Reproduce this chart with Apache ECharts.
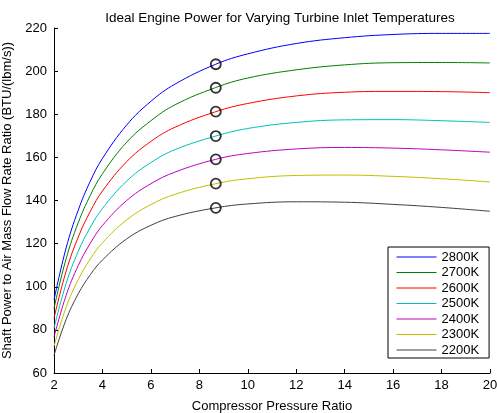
<!DOCTYPE html>
<html>
<head>
<meta charset="utf-8">
<script src="https://cdn.jsdelivr.net/npm/echarts@6/dist/echarts.min.js"></script>
<style>
html,body{margin:0;padding:0;background:#fff;}
#chart{width:497px;height:413px;}
</style>
</head>
<body>
<div id="chart"></div>
<script>
var pressureRatio = [2, 2.5, 3, 3.5, 4, 5, 6, 7, 8.68, 10, 12, 14, 16, 18, 20];
var seriesNames = ['2800K', '2700K', '2600K', '2500K', '2400K', '2300K', '2200K'];
var power2800 = [93.9, 118.0, 135.5, 149.0, 159.5, 175.0, 186.0, 194.0, 203.2, 208.0, 212.8, 215.5, 217.0, 217.5, 217.5];
var power2700 = [90.0, 113.0, 129.7, 142.4, 152.4, 167.0, 177.0, 184.4, 192.4, 196.8, 200.6, 202.9, 203.9, 204.0, 203.8];
var power2600 = [85.4, 107.2, 123.0, 135.0, 144.4, 158.0, 167.4, 174.0, 181.2, 185.0, 188.5, 190.2, 190.6, 190.5, 190.0];
var power2500 = [80.8, 101.5, 116.4, 127.6, 136.3, 149.0, 157.6, 163.6, 169.9, 173.4, 176.2, 177.4, 177.5, 177.0, 176.2];
var power2400 = [76.7, 96.0, 109.8, 120.2, 128.4, 140.0, 147.8, 153.2, 159.1, 161.8, 163.9, 164.6, 164.3, 163.5, 162.4];
var power2300 = [72.4, 90.5, 103.3, 112.9, 120.4, 131.0, 138.1, 142.9, 147.8, 150.1, 151.6, 151.8, 151.2, 150.1, 148.6];
var power2200 = [68.2, 84.8, 96.7, 105.6, 112.4, 122.2, 128.5, 132.6, 136.6, 138.4, 139.4, 139.2, 138.2, 136.8, 135.0];
var markerX = 8.68;
var markerY = [203.2, 192.3, 181.2, 169.9, 159.1, 147.8, 136.6];

var allPower = [power2800, power2700, power2600, power2500, power2400, power2300, power2200];
var colors = ['#0000ff', '#008000', '#ff0000', '#00bfbf', '#bf00bf', '#bfbf00', '#404040'];
var font = 'Liberation Sans, Arial, Helvetica, sans-serif';

var series = [];
for (var i = 0; i < seriesNames.length; i++) {
  var d = [];
  for (var j = 0; j < pressureRatio.length; j++) d.push([pressureRatio[j], allPower[i][j]]);
  series.push({
    name: seriesNames[i],
    type: 'line',
    data: d,
    smooth: 0.4,
    symbol: 'none',
    showSymbol: false,
    lineStyle: {color: colors[i], width: 1},
    itemStyle: {color: colors[i]},
    z: 2
  });
}
var markers = [];
for (var k = 0; k < markerY.length; k++) markers.push([markerX, markerY[k]]);
series.push({
  name: 'markers',
  type: 'scatter',
  data: markers,
  symbol: 'circle',
  symbolSize: 10,
  itemStyle: {color: 'rgba(255,255,255,0)', borderColor: '#000', borderWidth: 1.8},
  z: 5,
  silent: true
});

var chart = echarts.init(document.getElementById('chart'), null, {renderer: 'canvas'});
chart.setOption({
  backgroundColor: '#ffffff',
  animation: false,
  textStyle: {fontFamily: font},
  title: {
    text: 'Ideal Engine Power for Varying Turbine Inlet Temperatures',
    left: 275, top: 6, textAlign: 'center',
    textStyle: {fontSize: 13.5, fontWeight: 'normal', color: '#000', fontFamily: font}
  },
  grid: {left: 54, right: 7, top: 28, bottom: 40, containLabel: false, outerBoundsMode: 'none'},
  legend: {
    data: seriesNames,
    orient: 'vertical',
    left: 388, top: 247,
    padding: [3.5, 10, 1.5, 8],
    itemWidth: 40, itemHeight: 14, itemGap: 2.5,
    itemStyle: {opacity: 0},
    lineStyle: {width: 1},
    borderColor: '#000', borderWidth: 1, backgroundColor: '#fff',
    textStyle: {fontSize: 13, color: '#000', fontFamily: font},
    selectedMode: false
  },
  xAxis: {
    type: 'value', min: 2, max: 20, interval: 2,
    name: 'Compressor Pressure Ratio', nameLocation: 'middle', nameGap: 27,
    nameTextStyle: {fontSize: 13, color: '#000', fontFamily: font},
    axisLine: {show: true, onZero: false, lineStyle: {color: '#000', width: 1}},
    axisTick: {show: true, inside: true, length: 4, lineStyle: {color: '#000'}},
    axisLabel: {fontSize: 13, color: '#000', margin: 6, fontFamily: font},
    splitLine: {show: false}
  },
  yAxis: {
    type: 'value', min: 60, max: 220, interval: 20,
    name: 'Shaft Power to Air Mass Flow Rate Ratio (BTU/(lbm/s))', nameLocation: 'middle', nameGap: 40,
    nameTextStyle: {fontSize: 13, color: '#000', fontFamily: font},
    axisLine: {show: true, onZero: false, lineStyle: {color: '#000', width: 1}},
    axisTick: {show: true, inside: true, length: 4, lineStyle: {color: '#000'}},
    axisLabel: {fontSize: 13, color: '#000', margin: 7, fontFamily: font},
    splitLine: {show: false}
  },
  series: series
});
</script>
</body>
</html>
